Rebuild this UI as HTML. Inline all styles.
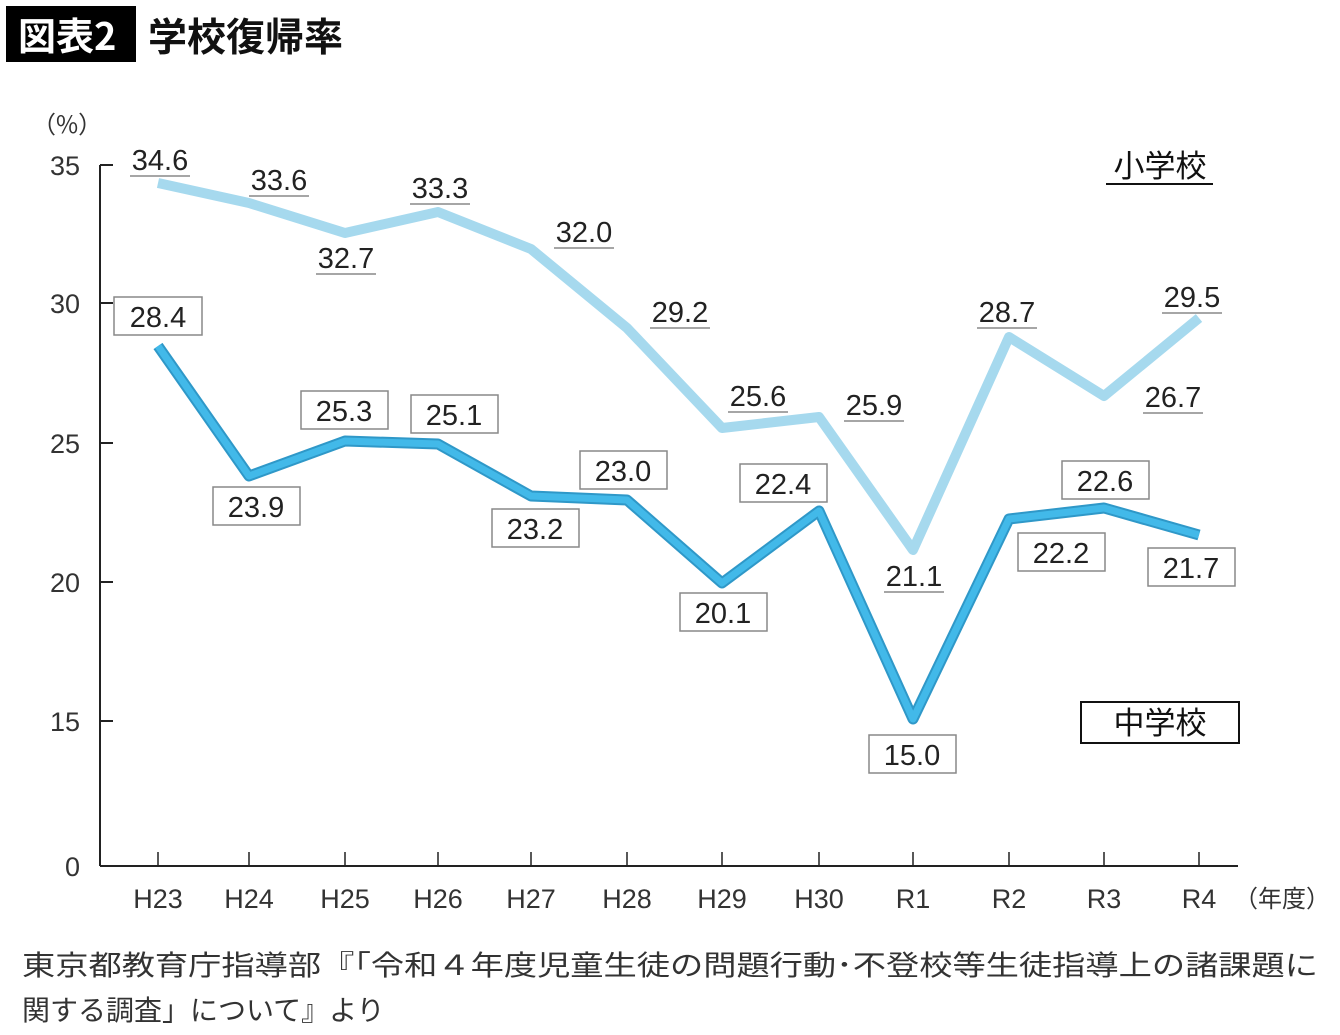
<!DOCTYPE html>
<html><head><meta charset="utf-8"><style>
html,body{margin:0;padding:0;background:#fff;}
svg{display:block;font-family:"Liberation Sans","Noto Sans CJK JP",sans-serif;}
.n{font-size:29px;fill:#222;text-anchor:middle;}
.ax{font-size:27px;fill:#333;}
</style></head><body>
<svg width="1340" height="1035" viewBox="0 0 1340 1035" xmlns="http://www.w3.org/2000/svg">
<rect x="6" y="6" width="130" height="56" fill="#000"/>
<text x="18" y="50" font-size="38" font-weight="bold" fill="#fff" font-family="Noto Sans CJK JP,sans-serif">図表2</text>
<text x="148" y="51" font-size="39" font-weight="bold" fill="#111" font-family="Noto Sans CJK JP,sans-serif">学校復帰率</text>
<text x="32" y="133" font-size="24" fill="#333" font-family="Noto Sans CJK JP,sans-serif">（%）</text>
<!-- axes -->
<g stroke="#222" stroke-width="2" fill="none">
<line x1="100" y1="165" x2="100" y2="866"/>
<line x1="100" y1="866" x2="1238" y2="866"/>
<line x1="100" y1="165" x2="113" y2="165"/>
<line x1="100" y1="303" x2="113" y2="303"/>
<line x1="100" y1="443" x2="113" y2="443"/>
<line x1="100" y1="582" x2="113" y2="582"/>
<line x1="100" y1="721" x2="113" y2="721"/>
<path d="M158 866V852M249 866V852M345 866V852M438 866V852M531 866V852M627 866V852M722 866V852M819 866V852M913 866V852M1009 866V852M1104 866V852M1199 866V852" stroke-width="1.5"/>
</g>
<g class="ax" text-anchor="end">
<text x="80" y="175">35</text><text x="80" y="313">30</text><text x="80" y="453">25</text>
<text x="80" y="592">20</text><text x="80" y="731">15</text><text x="80" y="876">0</text>
</g>
<g class="ax" text-anchor="middle">
<text x="158" y="908">H23</text><text x="249" y="908">H24</text><text x="345" y="908">H25</text>
<text x="438" y="908">H26</text><text x="531" y="908">H27</text><text x="627" y="908">H28</text>
<text x="722" y="908">H29</text><text x="819" y="908">H30</text><text x="913" y="908">R1</text>
<text x="1009" y="908">R2</text><text x="1104" y="908">R3</text><text x="1199" y="908">R4</text>
</g>
<text x="1234" y="907" font-size="24" fill="#333" font-family="Noto Sans CJK JP,sans-serif">（年度）</text>
<!-- elementary -->
<polyline points="158,183 249,203 345,233 438,212 531,249 627,328 722,428 819,417 913,550 1009,337 1104,396 1199,318" fill="none" stroke="#a6d9ee" stroke-width="10" stroke-linejoin="round"/>
<!-- middle -->
<polyline points="158,346 249,476 345,441 438,444 531,496 627,500 722,583 819,511 913,719 1009,519 1104,508 1199,535" fill="none" stroke="#2f98c8" stroke-width="11" stroke-linejoin="round"/>
<polyline points="158,346 249,476 345,441 438,444 531,496 627,500 722,583 819,511 913,719 1009,519 1104,508 1199,535" fill="none" stroke="#42b9e9" stroke-width="7" stroke-linejoin="round"/>
<!-- elementary labels -->
<g class="n">
<text x="160" y="170">34.6</text><text x="279" y="190">33.6</text><text x="346" y="268">32.7</text>
<text x="440" y="198">33.3</text><text x="584" y="242">32.0</text><text x="680" y="322">29.2</text>
<text x="758" y="406">25.6</text><text x="874" y="415">25.9</text><text x="914" y="586">21.1</text>
<text x="1007" y="322">28.7</text><text x="1173" y="407">26.7</text><text x="1192" y="307">29.5</text>
</g>
<g stroke="#888" stroke-width="1.5">
<line x1="130" y1="176" x2="190" y2="176"/><line x1="249" y1="196" x2="309" y2="196"/>
<line x1="316" y1="274" x2="376" y2="274"/><line x1="410" y1="204" x2="470" y2="204"/>
<line x1="554" y1="248" x2="614" y2="248"/><line x1="650" y1="328" x2="710" y2="328"/>
<line x1="728" y1="412" x2="788" y2="412"/><line x1="844" y1="421" x2="904" y2="421"/>
<line x1="884" y1="592" x2="944" y2="592"/><line x1="977" y1="328" x2="1037" y2="328"/>
<line x1="1143" y1="413" x2="1203" y2="413"/><line x1="1162" y1="313" x2="1222" y2="313"/>
</g>
<!-- middle labels -->
<g fill="#fff" stroke="#888" stroke-width="1.5">
<rect x="114" y="297" width="88" height="38"/><rect x="213" y="487" width="87" height="38"/>
<rect x="301" y="391" width="87" height="38"/><rect x="411" y="395" width="87" height="38"/>
<rect x="492" y="509" width="87" height="38"/><rect x="580" y="451" width="87" height="38"/>
<rect x="680" y="593" width="87" height="38"/><rect x="740" y="464" width="87" height="38"/>
<rect x="869" y="735" width="87" height="38"/><rect x="1018" y="533" width="87" height="38"/>
<rect x="1062" y="461" width="87" height="38"/><rect x="1148" y="548" width="87" height="38"/>
</g>
<g class="n">
<text x="158" y="327">28.4</text><text x="256" y="517">23.9</text><text x="344" y="421">25.3</text>
<text x="454" y="425">25.1</text><text x="535" y="539">23.2</text><text x="623" y="481">23.0</text>
<text x="723" y="623">20.1</text><text x="783" y="494">22.4</text><text x="912" y="765">15.0</text>
<text x="1061" y="563">22.2</text><text x="1105" y="491">22.6</text><text x="1191" y="578">21.7</text>
</g>
<!-- legends -->
<text x="1160" y="177" font-size="31" fill="#111" text-anchor="middle" font-family="Noto Sans CJK JP,sans-serif">小学校</text>
<line x1="1106" y1="184" x2="1213" y2="184" stroke="#111" stroke-width="2"/>
<rect x="1081" y="702" width="158" height="41" fill="#fff" stroke="#111" stroke-width="2"/>
<text x="1160" y="734" font-size="31" fill="#111" text-anchor="middle" font-family="Noto Sans CJK JP,sans-serif">中学校</text>
<!-- source -->
<text x="22" y="975" font-size="28" fill="#333" font-family="Noto Sans CJK JP,sans-serif" textLength="1296" lengthAdjust="spacingAndGlyphs">東京都教育庁指導部『「令和４年度児童生徒の問題行動･不登校等生徒指導上の諸課題に</text>
<text x="22" y="1020" font-size="28" fill="#333" font-family="Noto Sans CJK JP,sans-serif">関する調査」について』より</text>
</svg>
</body></html>
